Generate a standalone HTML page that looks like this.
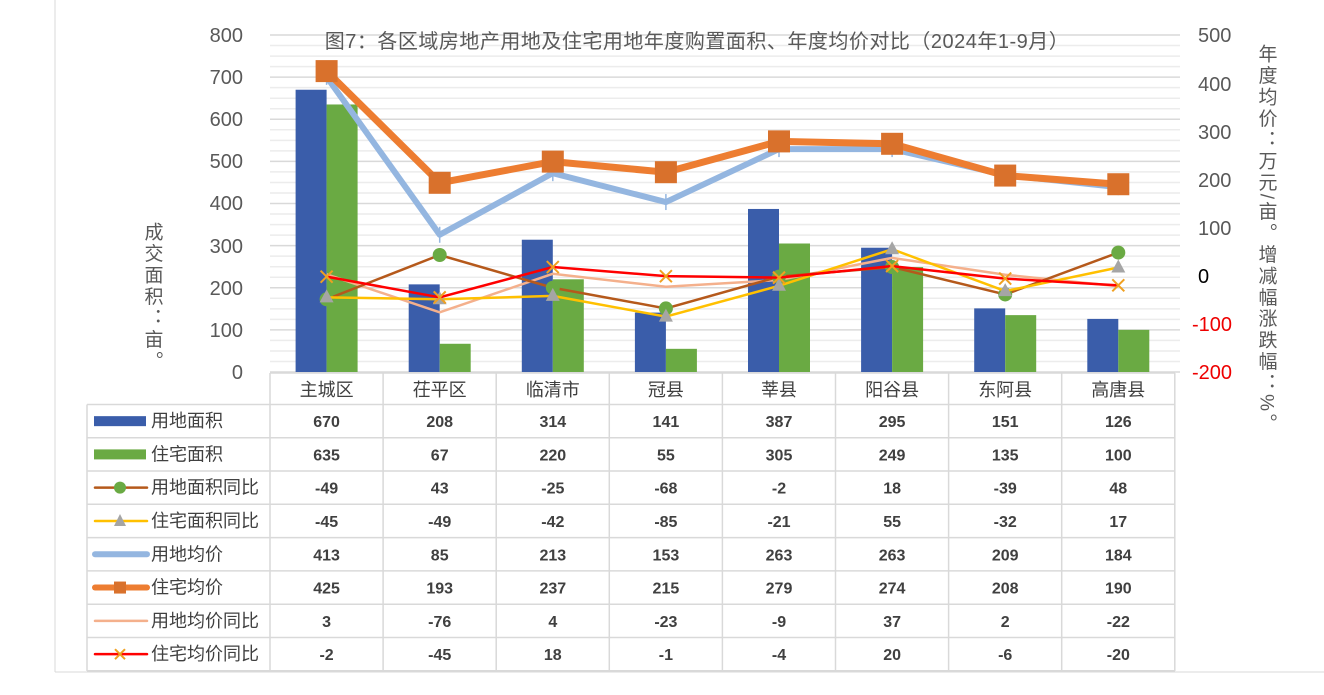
<!DOCTYPE html>
<html><head><meta charset="utf-8"><style>
body{margin:0;background:#fff;}
svg text{font-family:"Liberation Sans","Noto Sans CJK SC",sans-serif;}
</style></head><body>
<svg width="1324" height="690" xmlns="http://www.w3.org/2000/svg">
<rect x="0" y="0" width="1324" height="690" fill="#fff"/>
<line x1="55" y1="0" x2="55" y2="672" stroke="#d9d9d9"/>
<line x1="55" y1="672" x2="1324" y2="672" stroke="#d9d9d9"/>
<g id="grid" stroke="#e6e6e6" stroke-width="1.5"></g>
<text x="697" y="48" font-size="20" fill="#595959" text-anchor="middle" style="letter-spacing:0.5px">图7：各区域房地产用地及住宅用地年度购置面积、年度均价对比（2024年1-9月）</text>
<g font-size="20" fill="#595959" text-anchor="end">
<text x="243" y="42">800</text><text x="243" y="84">700</text><text x="243" y="126">600</text><text x="243" y="168">500</text><text x="243" y="210">400</text><text x="243" y="253">300</text><text x="243" y="295">200</text><text x="243" y="337">100</text><text x="243" y="379">0</text>
</g>
<g font-size="20" fill="#595959">
<text x="1198" y="42">500</text><text x="1198" y="91">400</text><text x="1198" y="139">300</text><text x="1198" y="187">200</text><text x="1198" y="235">100</text><text x="1198" y="283" fill="#000">0</text><text x="1192" y="331" fill="#e00">-100</text><text x="1192" y="379" fill="#e00">-200</text>
</g>
<text x="152" y="222" font-size="19" fill="#595959" style="writing-mode:vertical-rl;letter-spacing:2.5px">成交面积：亩。</text>
<text x="1266" y="44" font-size="19" fill="#595959" style="writing-mode:vertical-rl;letter-spacing:2.4px">年度均价：万元/亩。增减幅涨跌幅：%。</text>
<g id="bars"></g>
<g id="lines"></g>
<g id="table" stroke="#d9d9d9" stroke-width="1.5" fill="none"></g>
<g id="ttext"></g>
</svg>
<script>
const NS="http://www.w3.org/2000/svg";
function el(p,t,a,txt){const e=document.createElementNS(NS,t);for(const k in a)e.setAttribute(k,a[k]);if(txt!==undefined)e.textContent=txt;document.getElementById(p).appendChild(e);return e;}
for(let i=0;i<=32;i++){const y=35+i*337/32;el('grid','line',{x1:270,x2:1180,y1:y,y2:y,stroke:i%4==0?'#d9d9d9':'#ececec'});}
const c=[0,1,2,3,4,5,6,7].map(i=>326.6+113.1*i);
const L=v=>372-v*0.4213, R=v=>275.7-v*0.4814;
const d={a:[670,208,314,141,387,295,151,126],b:[635,67,220,55,305,249,135,100],c:[-49,43,-25,-68,-2,18,-39,48],e:[-45,-49,-42,-85,-21,55,-32,17],f:[413,85,213,153,263,263,209,184],g:[425,193,237,215,279,274,208,190],h:[3,-76,4,-23,-9,37,2,-22],k:[-2,-45,18,-1,-4,20,-6,-20]};
c.forEach((x,i)=>{el('bars','rect',{x:x-31,y:L(d.a[i]),width:31,height:d.a[i]*0.4213,fill:'#3A5DAA'});el('bars','rect',{x:x,y:L(d.b[i]),width:31,height:d.b[i]*0.4213,fill:'#6AAA43'});});
const pts=k=>c.map((x,i)=>x+','+R(d[k][i])).join(' ');
el('lines','polyline',{points:pts('f'),fill:'none',stroke:'#94B6E0','stroke-width':6,'stroke-linejoin':'round'});
c.forEach((x,i)=>el('lines','line',{x1:x,x2:x,y1:R(d.f[i])-8,y2:R(d.f[i])+8,stroke:'#94B6E0','stroke-width':1.5}));
el('lines','polyline',{points:pts('g'),fill:'none',stroke:'#ED7D31','stroke-width':7,'stroke-linejoin':'round'});
c.forEach((x,i)=>el('lines','rect',{x:x-11,y:R(d.g[i])-11,width:22,height:22,fill:'#D9712C'}));
el('lines','polyline',{points:pts('h'),fill:'none',stroke:'#F4B08C','stroke-width':2.5});
el('lines','polyline',{points:pts('c'),fill:'none',stroke:'#B5591B','stroke-width':2.5});
c.forEach((x,i)=>el('lines','circle',{cx:x,cy:R(d.c[i]),r:7,fill:'#6AAA43'}));
el('lines','polyline',{points:pts('e'),fill:'none',stroke:'#FFC000','stroke-width':2.5});
c.forEach((x,i)=>{const y=R(d.e[i]);el('lines','polygon',{points:`${x},${y-8} ${x-7},${y+5} ${x+7},${y+5}`,fill:'#A5A5A5'});});
el('lines','polyline',{points:pts('k'),fill:'none',stroke:'#F00','stroke-width':2.5});
c.forEach((x,i)=>{const y=R(d.k[i]);el('lines','path',{d:`M${x-6},${y-6}L${x+6},${y+6}M${x-6},${y+6}L${x+6},${y-6}`,stroke:'#F0A020','stroke-width':2});});
const rows=[373,404.5,437.8,471,504.3,537.6,570.9,604.2,637.5,670.8];
el('table','line',{x1:270,x2:270,y1:373,y2:671});
for(let j=1;j<=8;j++){const x=270+113.1*j;el('table','line',{x1:x,x2:x,y1:373,y2:671});}
el('table','line',{x1:270,x2:1175,y1:373,y2:373});
for(let r=1;r<rows.length;r++)el('table','line',{x1:87,x2:1175,y1:rows[r],y2:rows[r]});
el('table','line',{x1:87,x2:87,y1:404.5,y2:671});
const cats=['主城区','茌平区','临清市','冠县','莘县','阳谷县','东阿县','高唐县'];
cats.forEach((t,i)=>el('ttext','text',{x:c[i],y:396,'font-size':18,fill:'#404040','text-anchor':'middle'},t));
const names=['用地面积','住宅面积','用地面积同比','住宅面积同比','用地均价','住宅均价','用地均价同比','住宅均价同比'];
const keys=['a','b','c','e','f','g','h','k'];
keys.forEach((k,r)=>{const ym=(rows[r+1]+rows[r+2])/2;
 el('ttext','text',{x:151,y:ym+6,'font-size':18,fill:'#404040'},names[r]);
 d[k].forEach((v,i)=>el('ttext','text',{x:c[i],y:ym+6,'font-size':16,'font-weight':'bold',fill:'#404040','text-anchor':'middle'},v));
 const g='ttext';
 if(r<2)el(g,'rect',{x:94,y:ym-5,width:52,height:10,fill:r?'#6AAA43':'#3A5DAA'});
 else{const col={c:'#B5591B',e:'#FFC000',f:'#94B6E0',g:'#ED7D31',h:'#F4B08C',k:'#F00'}[k];const w=(k=='f'||k=='g')?6:2.5;
  el(g,'line',{x1:95,x2:147,y1:ym,y2:ym,stroke:col,'stroke-width':w,'stroke-linecap':'round'});
  if(k=='c')el(g,'circle',{cx:120,cy:ym,r:6,fill:'#6AAA43'});
  if(k=='e')el(g,'polygon',{points:`120,${ym-7} 114,${ym+5} 126,${ym+5}`,fill:'#A5A5A5'});
  if(k=='g')el(g,'rect',{x:114,y:ym-6,width:12,height:12,fill:'#D9712C'});
  if(k=='k')el(g,'path',{d:`M115,${ym-5}L125,${ym+5}M115,${ym+5}L125,${ym-5}`,stroke:'#F0A020','stroke-width':2});
 }});
</script>
</body></html>
